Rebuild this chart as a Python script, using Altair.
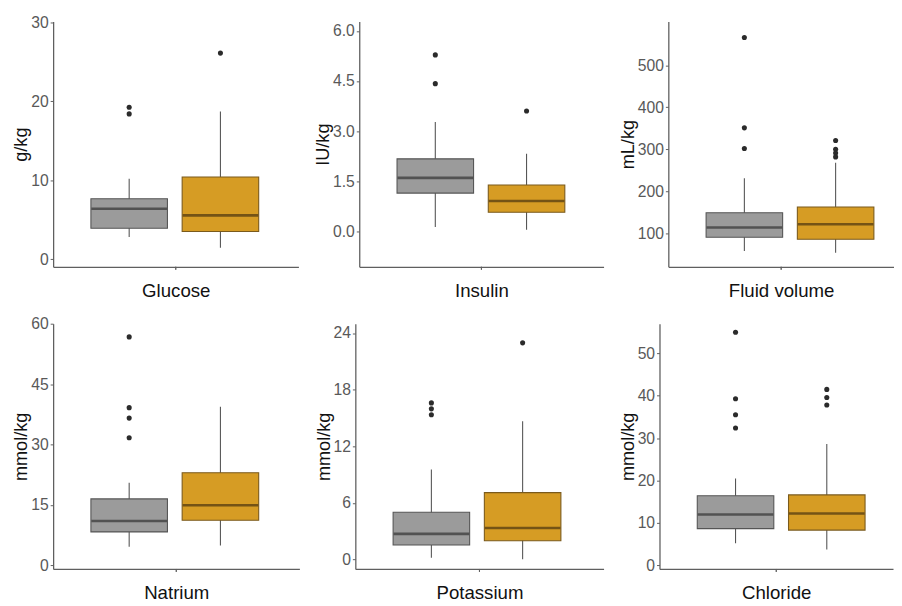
import altair as alt
import pandas as pd

variables = ["Glucose", "Insulin", "Fluid volume", "Natrium", "Potassium", "Chloride"]
units = ["g/kg", "IU/kg", "mL/kg", "mmol/kg", "mmol/kg", "mmol/kg"]
groups = ["A", "B"]

# per variable: [group A (gray), group B (gold)]
whisker_low = [[2.8, 1.45], [0.13, 0.05], [58, 54], [4.6, 4.9], [0.2, 0.03], [5.2, 3.7]]
q1 = [[3.93, 3.5], [1.145, 0.57], [90.7, 86], [8.3, 11.2], [1.56, 2.0], [8.65, 8.3]]
median = [[6.4, 5.55], [1.6, 0.91], [114, 122], [11.0, 14.9], [2.73, 3.36], [11.97, 12.2]]
q3 = [[7.65, 10.4], [2.17, 1.39], [149, 163], [16.5, 23.0], [5.02, 7.1], [16.4, 16.6]]
whisker_high = [[10.2, 18.7], [3.27, 2.32], [231, 268], [20.5, 39.4], [9.56, 14.65], [20.5, 28.6]]
outliers = [
    [[19.25, 18.4], [26.1]],
    [[5.28, 4.42], [3.6]],
    [[566, 351, 302], [321, 300, 291, 282]],
    [[56.8, 39.2, 36.6, 31.7], []],
    [[16.6, 15.97, 15.35], [22.96]],
    [[55.0, 39.3, 35.5, 32.4], [41.5, 39.6, 37.8]],
]
tick_values = [[0, 10, 20, 30], [0.0, 1.5, 3.0, 4.5, 6.0], [100, 200, 300, 400, 500],
               [0, 15, 30, 45, 60], [0, 6, 12, 18, 24], [0, 10, 20, 30, 40, 50]]
tick_formats = ["d", ".1f", "d", "d", "d", "d"]
y_domains = [[-0.96, 30.1], [-1.06, 6.28], [20.6, 604], [-0.93, 60.08], [-0.99, 24.99], [-0.88, 57.0]]

panel_widths = [250, 249, 230, 251, 253, 238]
panel_height = 250

fill_colors = ["#9b9b9b", "#d69c24"]
stroke_colors = ["#555555", "#7a5a1c"]
median_colors = ["#333333", "#4a3410"]
AXIS_COLOR = "#5f5f5f"
FONT = "Liberation Sans"


def band_scale(W):
    step = 93.0
    p_inner = 15.0 / step
    content = step * (2 - p_inner)
    rem = W - content
    return alt.Scale(domain=groups, paddingInner=p_inner, paddingOuter=rem / 2 / step,
                     align=min(1.0, 38.5 / rem))


def panel(i):
    W = panel_widths[i]
    stats = pd.DataFrame({
        "group": groups,
        "lo": whisker_low[i],
        "q1": q1[i],
        "med": median[i],
        "q3": q3[i],
        "hi": whisker_high[i],
    })
    out_rows = []
    for g, vals in zip(groups, outliers[i]):
        for v in vals:
            out_rows.append({"group": g, "value": v})
    outs = pd.DataFrame(out_rows, columns=["group", "value"])

    xs = band_scale(W)
    ys = alt.Scale(domain=y_domains[i], nice=False, zero=False)
    x_enc = alt.X("group:N", scale=xs,
                  axis=alt.Axis(title=variables[i], labels=False, ticks=False,
                                titlePadding=15, titleFontSize=19))
    y_axis = alt.Axis(title=units[i], values=tick_values[i], format=tick_formats[i],
                      tickSize=3, labelPadding=2, titlePadding=0, titleFontSize=18.5)
    color_scale = alt.Scale(domain=groups, range=fill_colors)
    stroke_scale = alt.Scale(domain=groups, range=stroke_colors)
    med_scale = alt.Scale(domain=groups, range=median_colors)

    base = alt.Chart(stats)
    whisk = base.mark_rule(color="#555555", strokeWidth=1.1).encode(
        x=x_enc,
        y=alt.Y("lo:Q", scale=ys, axis=y_axis),
        y2="hi:Q",
    )
    box = base.mark_bar(strokeWidth=1.1).encode(
        x=alt.X("group:N", scale=xs),
        y=alt.Y("q1:Q", scale=ys),
        y2="q3:Q",
        fill=alt.Fill("group:N", scale=color_scale, legend=None),
        stroke=alt.Stroke("group:N", scale=stroke_scale, legend=None),
    )
    med = base.mark_tick(size=77, thickness=2.6).encode(
        x=alt.X("group:N", scale=xs),
        y=alt.Y("med:Q", scale=ys),
        color=alt.Color("group:N", scale=med_scale, legend=None),
    )
    pts = alt.Chart(outs).mark_circle(size=27, color="#2b2b2b", opacity=1).encode(
        x=alt.X("group:N", scale=xs),
        y=alt.Y("value:Q", scale=ys),
    )
    center_tick = base.mark_rule(color=AXIS_COLOR, strokeWidth=1).encode(
        x=alt.value(W / 2), y=alt.value(panel_height), y2=alt.value(panel_height + 3)
    )
    return alt.layer(whisk, box, med, pts, center_tick).resolve_scale(
        color="independent", fill="independent", stroke="independent"
    ).properties(width=W, height=panel_height)


row1 = alt.hconcat(panel(0), panel(1), panel(2), spacing=15)
row2 = alt.hconcat(panel(3), panel(4), panel(5), spacing=15)
chart = alt.vconcat(row1, row2, spacing=16).properties(
    padding={"left": 4, "top": 0, "right": 0, "bottom": 0}
).configure_view(stroke=None).configure_axis(
    grid=False,
    domainColor=AXIS_COLOR,
    domainWidth=1.3,
    tickColor=AXIS_COLOR,
    labelColor="#595959",
    labelFont=FONT,
    titleFont=FONT,
    labelFontSize=16,
    titleFontWeight="normal",
    titleColor="#111111",
)

chart.save("out.html", embed_options={"renderer": "svg", "actions": False})
